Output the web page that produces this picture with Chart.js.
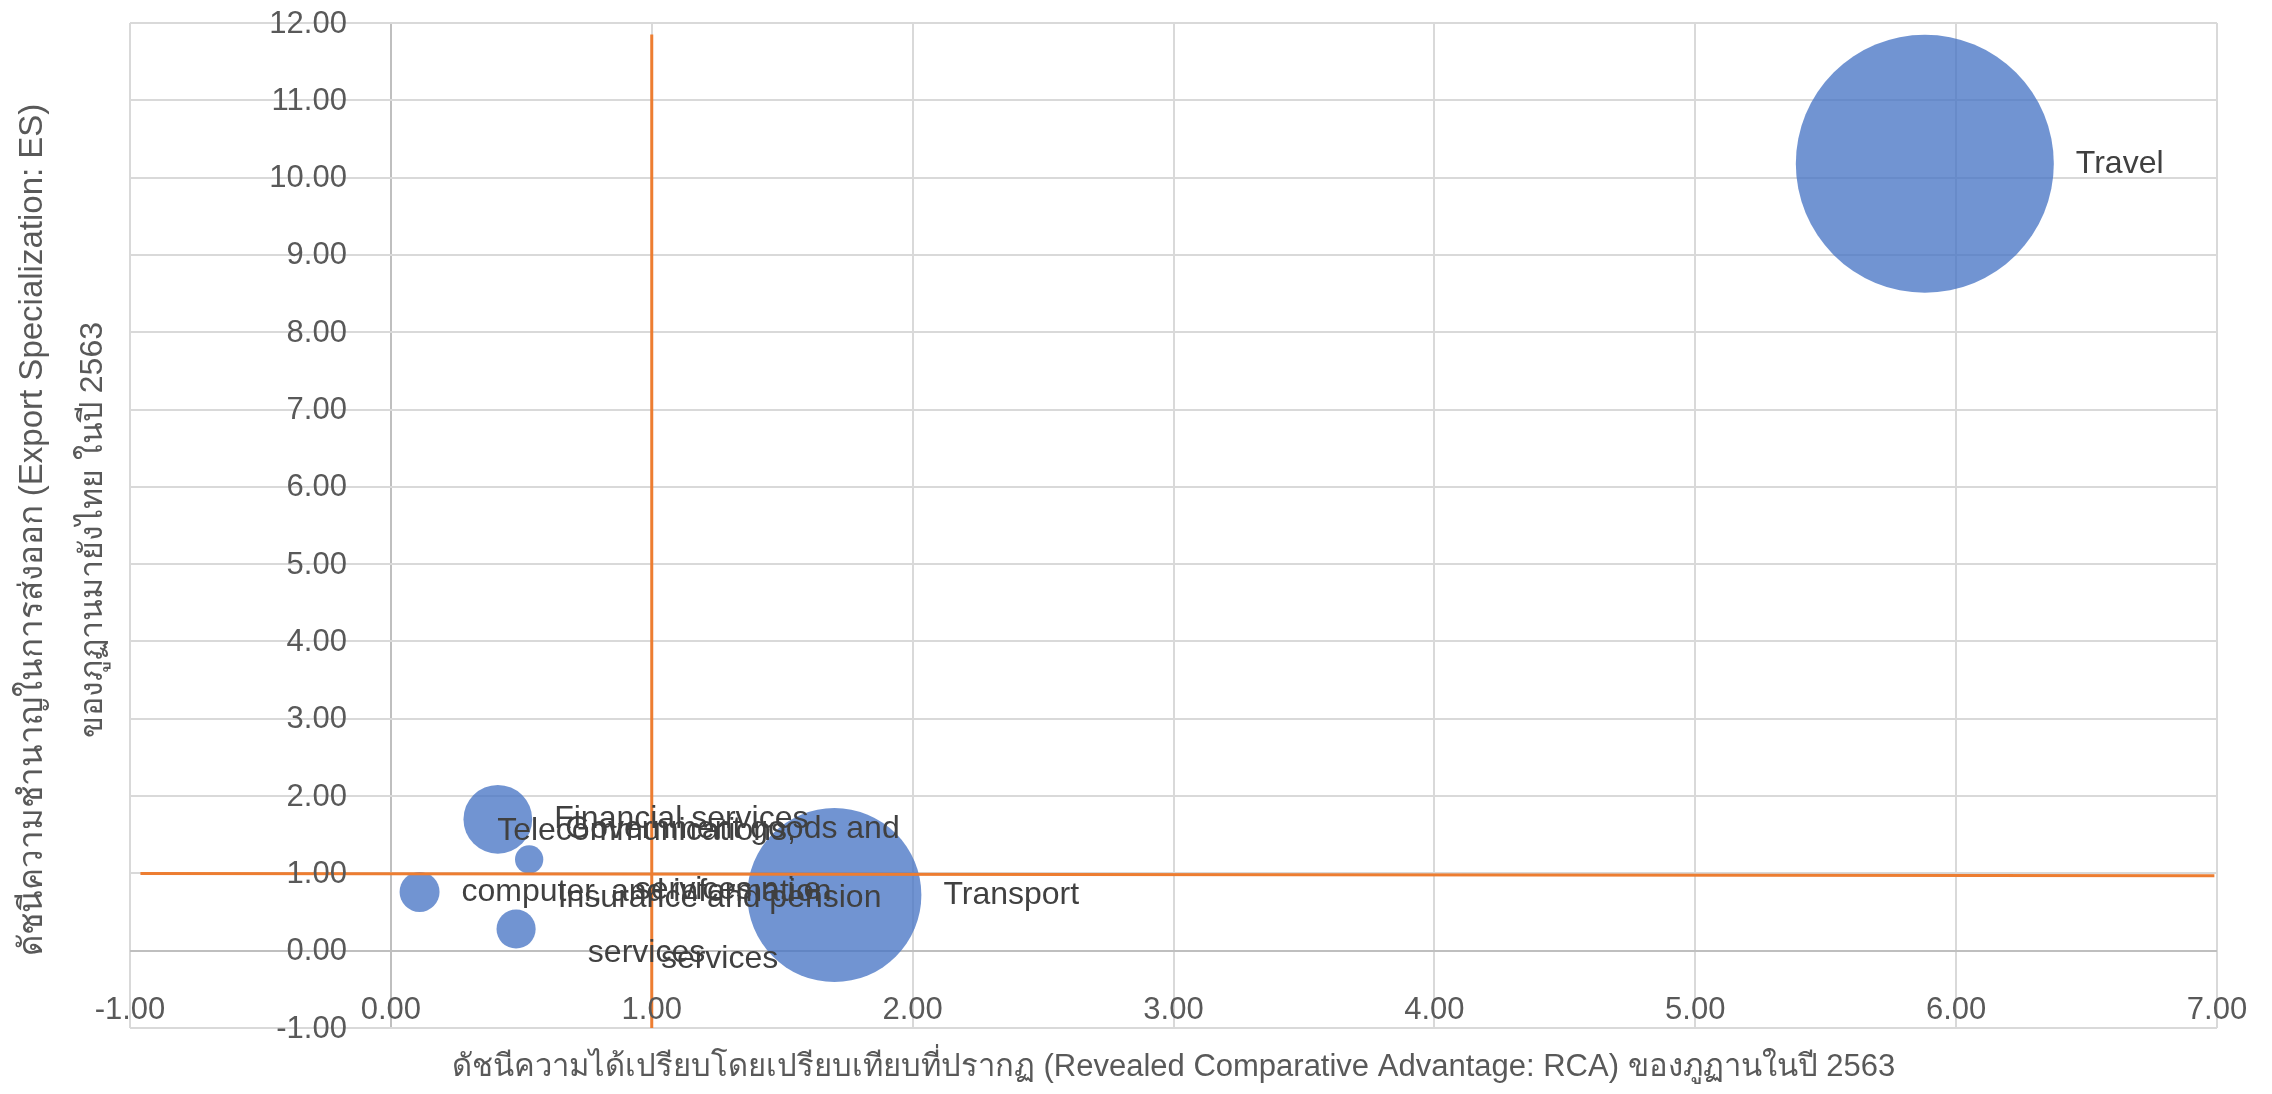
<!DOCTYPE html>
<html>
<head>
<meta charset="utf-8">
<script src="https://cdn.jsdelivr.net/npm/chart.js@4.4.1/dist/chart.umd.min.js"></script>
<style>
  body { margin: 0; background: #ffffff; }
</style>
</head>
<body>
<canvas id="bubbleChart" width="2272" height="1094"></canvas>
<script>
// Service categories (labels wrap like in the original Excel chart)
const categories = [
  'Travel',
  'Transport',
  'Financial services',
  'Government goods and\nservices n.i.e.',
  'Telecommunications,\ncomputer, and information\nservices',
  'Insurance and pension\nservices'
];
const rcaValues = [5.88, 1.70, 0.41, 0.53, 0.11, 0.48];   // x: RCA
const esValues = [10.18, 0.72, 1.70, 1.18, 0.76, 0.28];   // y: ES
const bubbleSizes = [100, 45.5, 7.1, 1.2, 2.4, 2.3];      // relative bubble size

// Reference lines (RCA = 1 and ES = 1)
const rcaRefX = [1, 1];
const rcaRefY = [11.85, -1];
const esRefX = [-0.96, 6.99];
const esRefY = [1.00, 0.97];

const xTickLabels = ['-1.00', '0.00', '1.00', '2.00', '3.00', '4.00', '5.00', '6.00', '7.00'];
const yTickLabels = ['-1.00', '0.00', '1.00', '2.00', '3.00', '4.00', '5.00', '6.00', '7.00',
                     '8.00', '9.00', '10.00', '11.00', '12.00'];

const xTitle = 'ดัชนีความได้เปรียบโดยเปรียบเทียบที่ปรากฏ (Revealed Comparative Advantage: RCA) ของภูฏานในปี 2563';
const yTitle = ['ดัชนีความชำนาญในการส่งออก (Export Specialization: ES)', 'ของภูฏานมายังไทย ในปี 2563'];

const FONT = '"Liberation Sans", Arial, sans-serif';
const MAX_R = 129;  //radius of the largest bubble in px
const maxSize = Math.max(...bubbleSizes);

const bubbleData = rcaValues.map((x, i) => ({
  x: x,
  y: esValues[i],
  r: MAX_R * Math.sqrt(bubbleSizes[i] / maxSize)
}));

//Draws tick labels, axis titles and data labels the way Excel placed them
const excelText = {
  id: 'excelText',
  afterDraw(chart) {
    const ctx = chart.ctx;
    const xs = chart.scales.x;
    const ys = chart.scales.y;
    const area = chart.chartArea;
    ctx.save();
    ctx.font = '31px ' + FONT;
    ctx.fillStyle = '#595959';

    //y tick labels sit just left of the x = 0 axis
    ctx.textAlign = 'right';
    ctx.textBaseline = 'middle';
    const yLabelX = xs.getPixelForValue(0) - 44;
    yTickLabels.forEach(t => {
      ctx.fillText(t, yLabelX, ys.getPixelForValue(parseFloat(t)) + 1);
    });

    //x tick labels sit just above the bottom edge
    ctx.textAlign = 'center';
    xTickLabels.forEach(t => {
      ctx.fillText(t, xs.getPixelForValue(parseFloat(t)), area.bottom - 18);
    });

    //axis titles
    ctx.font = '31px ' + FONT;
    ctx.fillText(xTitle, (area.left + area.right) / 2, 1067);
    ctx.save();
    ctx.translate(0, 530);
    ctx.rotate(-Math.PI / 2);
    ctx.font = '33px ' + FONT;
    ctx.fillText(yTitle[0], 0, 33);
    ctx.font = '32px ' + FONT;
    ctx.fillText(yTitle[1], 0, 93);
    ctx.restore();

    //data labels, to the right of each bubble
    const meta = chart.getDatasetMeta(2);
    ctx.font = '32px ' + FONT;
    ctx.fillStyle = '#404040';
    meta.data.forEach((el, i) => {
      const lines = categories[i].split('\n');
      const w = Math.max(...lines.map(l => ctx.measureText(l).width));
      const left = el.x + el.options.radius + 22;
      lines.forEach((l, j) => {
        ctx.fillText(l, left + w / 2, el.y + (j - (lines.length - 1) / 2) * 61);
      });
    });
    ctx.restore();
  }
};

const gridColor = ctx => (ctx.tick && ctx.tick.value === 0) ? '#BFBFBF' : '#D9D9D9';

new Chart(document.getElementById('bubbleChart'), {
  type: 'bubble',
  data: {
    datasets: [
      {
        type: 'line',
        data: rcaRefX.map((x, i) => ({ x: x, y: rcaRefY[i] })),
        borderColor: '#ED7D31',
        borderWidth: 3,
        pointRadius: 0,
        fill: false,
        order: 0
      },
      {
        type: 'line',
        data: esRefX.map((x, i) => ({ x: x, y: esRefY[i] })),
        borderColor: '#ED7D31',
        borderWidth: 3,
        pointRadius: 0,
        fill: false,
        order: 0
      },
      {
        label: 'Services',
        data: bubbleData,
        backgroundColor: 'rgba(68, 114, 196, 0.76)',
        borderWidth: 0,
        order: 1
      }
    ]
  },
  options: {
    responsive: false,
    animation: false,
    devicePixelRatio: 1,
    events: [],
    layout: {
      autoPadding: false,
      padding: { left: 130, top: 23, right: 55, bottom: 66 }
    },
    plugins: {
      legend: { display: false },
      tooltip: { enabled: false }
    },
    scales: {
      x: {
        type: 'linear',
        min: -1,
        max: 7,
        ticks: { display: false, stepSize: 1 },
        grid: { color: gridColor, lineWidth: 2, drawTicks: false },
        border: { display: false }
      },
      y: {
        type: 'linear',
        min: -1,
        max: 12,
        ticks: { display: false, stepSize: 1 },
        grid: { color: gridColor, lineWidth: 2, drawTicks: false },
        border: { display: false }
      }
    }
  },
  plugins: [excelText]
});
</script>
</body>
</html>
